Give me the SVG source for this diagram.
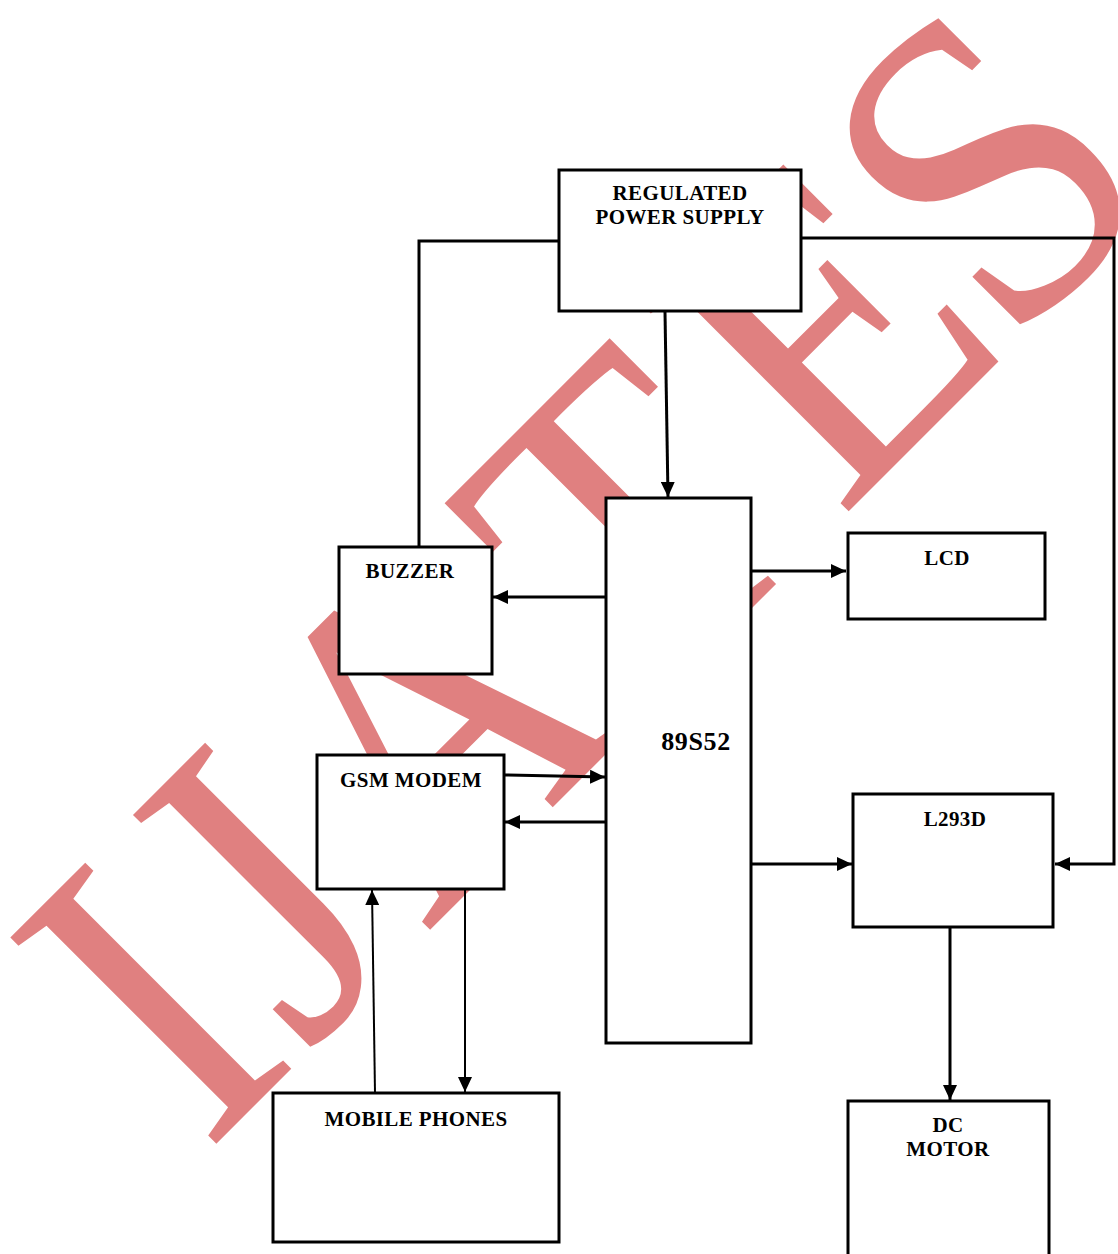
<svg xmlns="http://www.w3.org/2000/svg" width="1118" height="1254" viewBox="0 0 1118 1254">
<style>
.box{fill:#fff;stroke:#000;stroke-width:3}
.lbl{font-family:"Liberation Serif","Times New Roman",serif;font-weight:bold;font-size:21px;letter-spacing:0.4px;fill:#000;text-anchor:middle}
.ln{fill:none;stroke:#000;stroke-width:3}
.thin{fill:none;stroke:#000;stroke-width:2}
.wm{font-family:"Liberation Serif","Times New Roman",serif;font-size:445px;fill:#e08080}
</style>
<defs>
<marker id="arr" markerUnits="userSpaceOnUse" markerWidth="16" markerHeight="14" refX="15" refY="7" orient="auto">
<path d="M0,0 L15,7 L0,14 z" fill="#000"/>
</marker>
</defs>
<rect width="1118" height="1254" fill="#fff"/>
<text class="wm" transform="translate(215,1145) rotate(-45) scale(0.91,1)" x="-14 141 330 669 972 1233" y="0">IJATES</text>
<g id="connectors">
<polyline class="ln" points="558,241 419,241 419,547"/>
<polyline class="ln" points="801,238 1114,238 1114,864 1055,864" marker-end="url(#arr)"/>
<line class="ln" x1="665" y1="312" x2="668" y2="497" marker-end="url(#arr)"/>
<line class="ln" x1="606" y1="597" x2="493" y2="597" marker-end="url(#arr)"/>
<line class="ln" x1="751" y1="571" x2="846" y2="571" marker-end="url(#arr)"/>
<line class="ln" x1="505" y1="775" x2="605" y2="777" marker-end="url(#arr)"/>
<line class="ln" x1="606" y1="822" x2="505" y2="822" marker-end="url(#arr)"/>
<line class="ln" x1="751" y1="864" x2="852" y2="864" marker-end="url(#arr)"/>
<line class="ln" x1="950" y1="928" x2="950" y2="1100" marker-end="url(#arr)"/>
<line class="thin" x1="375" y1="1093" x2="372" y2="890" marker-end="url(#arr)"/>
<line class="thin" x1="465" y1="889" x2="465" y2="1092" marker-end="url(#arr)"/>
</g>
<g id="power"><rect class="box" x="559" y="170" width="242" height="141"/><text class="lbl" x="680" y="200">REGULATED</text><text class="lbl" x="680" y="224">POWER SUPPLY</text></g>
<g id="mcu"><rect class="box" x="606" y="498" width="145" height="545"/><text class="lbl" x="696" y="750" style="font-size:26px;letter-spacing:0.6px">89S52</text></g>
<g id="lcd"><rect class="box" x="848" y="533" width="197" height="86"/><text class="lbl" x="947" y="565">LCD</text></g>
<g id="buzzer"><rect class="box" x="339" y="547" width="153" height="127"/><text class="lbl" x="410" y="578">BUZZER</text></g>
<g id="gsm"><rect class="box" x="317" y="755" width="187" height="134"/><text class="lbl" x="411" y="787">GSM MODEM</text></g>
<g id="l293d"><rect class="box" x="853" y="794" width="200" height="133"/><text class="lbl" x="955" y="826">L293D</text></g>
<g id="mobile"><rect class="box" x="273" y="1093" width="286" height="149"/><text class="lbl" x="416" y="1126">MOBILE PHONES</text></g>
<g id="motor"><rect class="box" x="848" y="1101" width="201" height="170"/><text class="lbl" x="948" y="1132">DC</text><text class="lbl" x="948" y="1156">MOTOR</text></g>
</svg>
